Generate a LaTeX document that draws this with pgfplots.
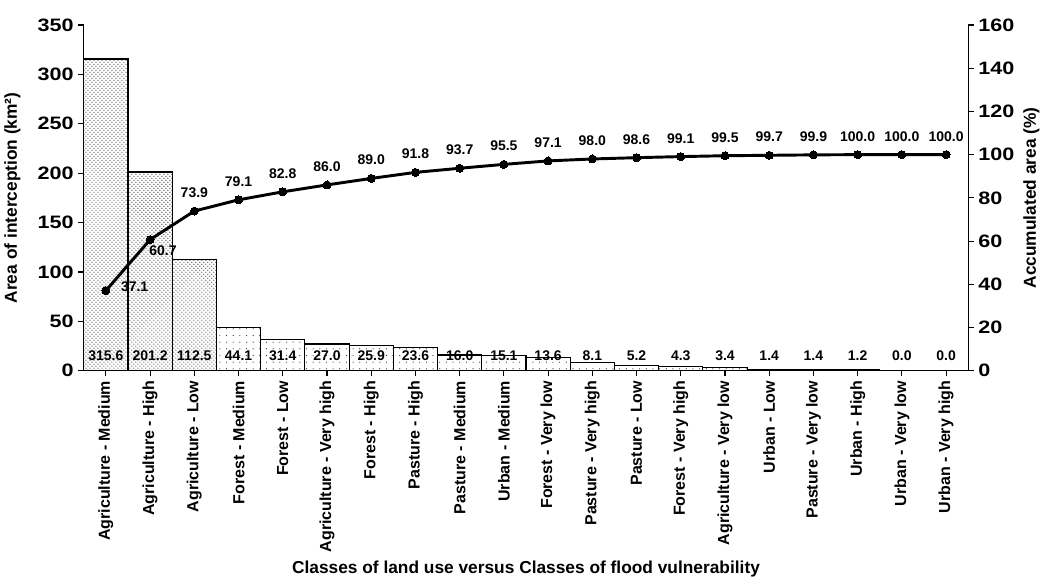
\documentclass[border=0pt]{standalone}
\usepackage{pgfplots}
\pgfplotsset{compat=1.18}
\usepackage{pgfplotstable}
\usepackage{fontspec}
\setmainfont{Liberation Sans}
\newfontfamily\tickfont{Liberation Sans}[FakeStretch=1.2]
\usetikzlibrary{patterns,patterns.meta}

\pgfplotstableread{
x v
0 315.6
1 201.2
2 112.5
3 44.1
4 31.4
5 27.0
6 25.9
7 23.6
8 16.0
9 15.1
10 13.6
11 8.1
12 5.2
13 4.3
14 3.4
15 1.4
16 1.4
17 1.2
18 0.0
19 0.0
}\bars

\pgfplotstableread{
x c
0 37.1
1 60.7
2 73.9
3 79.1
4 82.8
5 86.0
6 89.0
7 91.8
8 93.7
9 95.5
10 97.1
11 98.0
12 98.6
13 99.1
14 99.5
15 99.7
16 99.9
17 100.0
18 100.0
19 100.0
}\cum

% label positions (x, y in % axis units) and texts of the cumulative line
\pgfplotstableread{
x y t
0.65 38.8 37.1
1.29 55.5 60.7
2 82.4 73.9
3 87.6 79.1
4 91.3 82.8
5 94.5 86.0
6 97.5 89.0
7 100.3 91.8
8 102.2 93.7
9 104.0 95.5
10 105.6 97.1
11 106.5 98.0
12 107.1 98.6
13 107.6 99.1
14 108.0 99.5
15 108.2 99.7
16 108.4 99.9
17 108.5 100.0
18 108.5 100.0
19 108.5 100.0
}\cumlabels

\begin{document}
\begin{tikzpicture}
\pgfplotsset{
  every axis/.append style={
    scale only axis, width=663.75pt, height=259.5pt,
    xmin=-0.5, xmax=19.5, ymin=0,
    /pgf/number format/assume math mode=true,
    axis line style={line width=0.8pt, -},
    tick align=outside, major tick length=4pt,
    tick style={black, line width=0.8pt},
    y tick label style={font=\tickfont\bfseries\fontsize{13.5}{15}\selectfont},
    label style={font=\bfseries\fontsize{13}{15}\selectfont},
    clip=false,
  }
}
\begin{axis}[
  name=main,
  ymax=350,
  axis y line*=left, axis x line*=bottom,
  xtick={0,...,19},
  xticklabels={Agriculture - Medium, Agriculture - High, Agriculture - Low, Forest - Medium, Forest - Low, Agriculture - Very high, Forest - High, Pasture - High, Pasture - Medium, Urban - Medium, Forest - Very low, Pasture - Very high, Pasture - Low, Forest - Very high, Agriculture - Very low, Urban - Low, Pasture - Very low, Urban - High, Urban - Very low, Urban - Very high},
  x tick label style={rotate=90, anchor=east, font=\bfseries\fontsize{12}{14}\selectfont},
  ytick={0,50,...,350},
  ylabel={Area of interception (km²)},
  ylabel style={yshift=6pt},
  xlabel={Classes of land use versus Classes of flood vulnerability},
]
\addplot[ybar, bar width=1, bar shift=0pt, draw=black, line width=0.9pt,
  pattern=crosshatch dots, pattern color=black!65,
  restrict x to domain=0:2]
  table[x=x, y=v]{\bars};
\addplot[ybar, bar width=1, bar shift=0pt, draw=black, line width=0.9pt,
  pattern={Dots[distance=5pt, radius=0.45pt]}, pattern color=black!80,
  restrict x to domain=3:19]
  table[x=x, y=v]{\bars};
\addplot[draw=none, mark=none, point meta=\thisrow{v},
  nodes near coords={\pgfmathprintnumber[fixed, fixed zerofill, precision=1]{\pgfplotspointmeta}},
  nodes near coords style={anchor=center, inner sep=0pt, font=\bfseries\fontsize{10.5}{12}\selectfont}]
  table[x=x, y expr=15]{\bars};
\end{axis}
\begin{axis}[
  ymax=160,
  axis y line*=right, axis x line=none,
  ytick={0,20,...,160},
  ylabel={Accumulated area (\%)},
  ylabel style={yshift=0pt},
]
\addplot[black, line width=2.2pt, line join=round, mark=*, mark size=3pt,
  mark options={fill=black, line width=0pt}]
  table[x=x, y=c]{\cum};
\addplot[draw=none, mark=none, point meta=explicit symbolic,
  nodes near coords,
  nodes near coords style={anchor=center, inner sep=0pt, font=\bfseries\fontsize{10.5}{12}\selectfont}]
  table[x=x, y=y, meta=t]{\cumlabels};
\end{axis}
\path ([yshift=18.75pt]main.north);
\end{tikzpicture}
\end{document}
